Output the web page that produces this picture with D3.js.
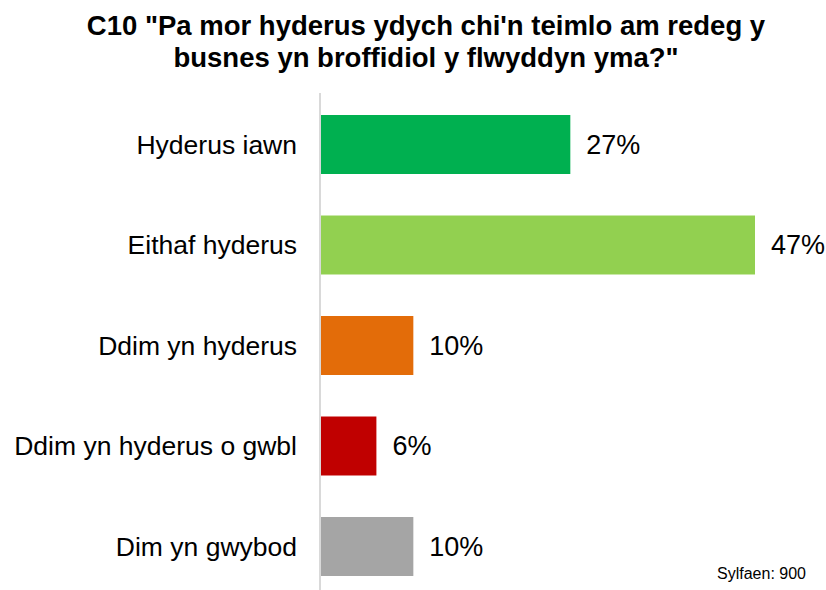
<!DOCTYPE html>
<html>
<head>
<meta charset="utf-8">
<script src="https://cdn.jsdelivr.net/npm/d3@7"></script>
<style>
  body { margin: 0; background: #fff; }
  svg { font-family: "Liberation Sans", Arial, sans-serif; }
</style>
</head>
<body>
<svg width="826" height="590"></svg>
<script>
const width = 826;
const height = 590;

const categories = ["Hyderus iawn", "Eithaf hyderus", "Ddim yn hyderus", "Ddim yn hyderus o gwbl", "Dim yn gwybod"];
const values = [27, 47, 10, 6, 10];
const colors = ["#00B050", "#92D050", "#E36C09", "#C00000", "#A5A5A5"];

const svg = d3.select("svg");

// title
const title = svg.append("text")
  .attr("text-anchor", "middle")
  .attr("font-weight", "bold")
  .attr("font-size", 27.5)
  .attr("fill", "#000");
title.append("tspan").attr("x", 426).attr("y", 35).text("C10 \"Pa mor hyderus ydych chi'n teimlo am redeg y");
title.append("tspan").attr("x", 426).attr("y", 67).text("busnes yn broffidiol y flwyddyn yma?\"");

const x0 = 321;
const x = d3.scaleLinear().domain([0, 47]).range([x0, 755]);

const y = d3.scaleBand()
  .domain(categories)
  .range([73.5, 617.5])
  .padding(0.413);

// axis line
svg.append("line")
  .attr("x1", 320).attr("x2", 320)
  .attr("y1", 93).attr("y2", 590)
  .attr("stroke", "#d9d9d9")
  .attr("stroke-width", 2);

const g = svg.selectAll(".bar")
  .data(categories)
  .enter().append("g")
  .attr("class", "bar");

g.append("rect")
  .attr("x", x0)
  .attr("y", d => y(d))
  .attr("width", (d, i) => x(values[i]) - x0)
  .attr("height", y.bandwidth())
  .attr("fill", (d, i) => colors[i]);

// category labels
g.append("text")
  .attr("x", 297)
  .attr("y", d => y(d) + y.bandwidth() / 2)
  .attr("dy", "0.35em")
  .attr("text-anchor", "end")
  .attr("font-size", 26.5)
  .text(d => d);

// value labels
g.append("text")
  .attr("x", (d, i) => x(values[i]) + 16)
  .attr("y", d => y(d) + y.bandwidth() / 2)
  .attr("dy", "0.35em")
  .attr("font-size", 27)
  .text((d, i) => values[i] + "%");

svg.append("text")
  .attr("x", 806)
  .attr("y", 579)
  .attr("text-anchor", "end")
  .attr("font-size", 16)
  .text("Sylfaen: 900");
</script>
</body>
</html>
